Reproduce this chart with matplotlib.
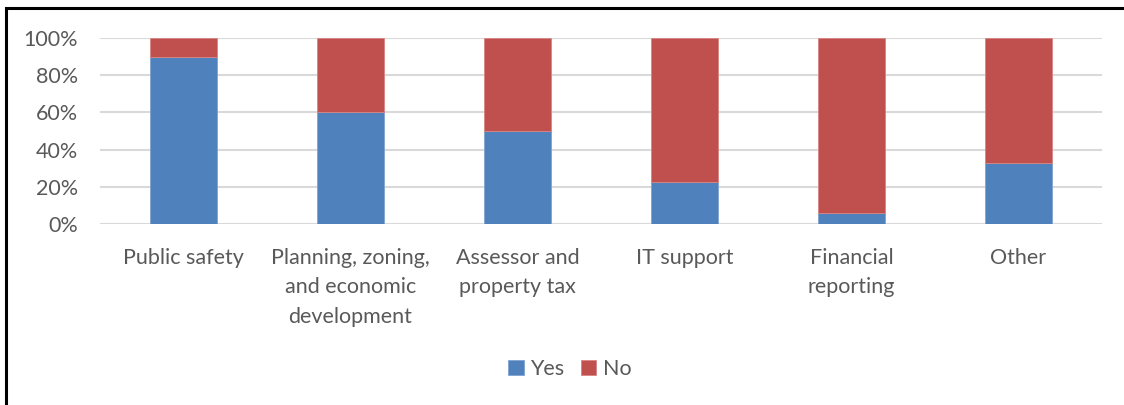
import matplotlib.pyplot as plt
import numpy as np
from matplotlib.patches import Rectangle

categories = ['Public safety', 'Planning, zoning,\nand economic\ndevelopment',
              'Assessor and\nproperty tax', 'IT support', 'Financial\nreporting', 'Other']
yes = [89.6, 60.0, 49.8, 22.4, 5.7, 33.0]
no = [100 - v for v in yes]

blue = '#4F81BD'
red = '#C0504D'
grey = '#595959'

plt.rcParams['font.family'] = ['Lato', 'DejaVu Sans']

fig = plt.figure(figsize=(11.24, 4.05), dpi=100)
ax = fig.add_axes([100/1124, 181/405, 1002/1124, 186/405])

x = np.arange(len(categories))
ax.bar(x, yes, width=0.4, color=blue, edgecolor='#7FA3CF', linewidth=0.6, label='Yes', zorder=3)
ax.bar(x, no, width=0.4, bottom=yes, color=red, edgecolor='#D98583', linewidth=0.6, label='No', zorder=3)

ax.set_xlim(-0.5, len(categories) - 0.5)
ax.set_ylim(0, 100)
ax.set_yticks([0, 20, 40, 60, 80, 100])
ax.set_yticklabels([f'{v}%' for v in [0, 20, 40, 60, 80, 100]])
ax.set_xticks(x)
ax.set_xticklabels(categories, linespacing=1.6, va='top')
ax.tick_params(axis='both', length=0, colors=grey, labelsize=15.5)
ax.tick_params(axis='x', pad=17)
ax.tick_params(axis='y', pad=16)
ax.grid(axis='y', color='#D9D9D9', linewidth=1.5, zorder=0)
for s in ax.spines.values():
    s.set_visible(False)

leg = ax.legend(loc='center', bbox_to_anchor=(470/1002, (224 - 369)/186), ncol=2,
                frameon=False, fontsize=15.5, handlelength=0.7, handleheight=0.7,
                handletextpad=0.3, columnspacing=0.8)
for t in leg.get_texts():
    t.set_color(grey)

fig.patches.append(Rectangle((6/1124, -0.1), 2.0, (405 - 8)/405 + 0.1,
                             transform=fig.transFigure, fill=False,
                             edgecolor='black', linewidth=2.2))

fig.savefig('out.png', dpi=100)
